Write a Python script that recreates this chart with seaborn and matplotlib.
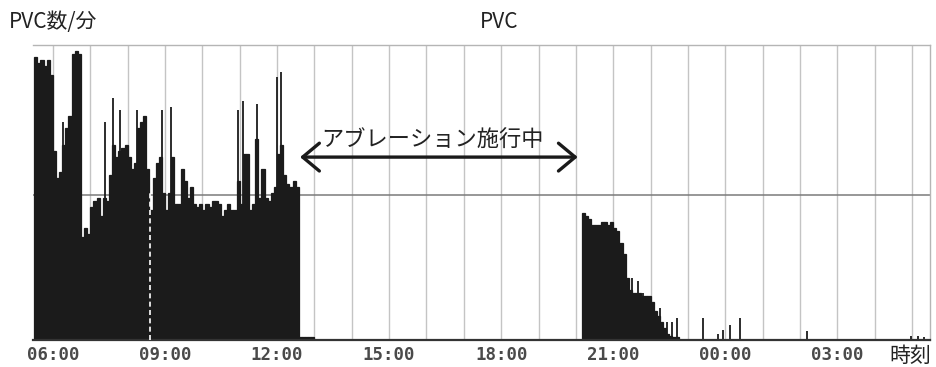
import numpy as np
import pandas as pd
import matplotlib
matplotlib.use("Agg")
import matplotlib.pyplot as plt
import seaborn as sns

## data: PVC count per minute, 5-minute bins
morning_start = "05:30"
morning_pvc = [96, 94, 95, 93, 95, 90, 64, 55, 57, 66,
               72, 76, 97, 98, 97, 35, 38, 36, 45, 47,
               48, 42, 48, 47, 56, 66, 62, 64, 65, 66,
               62, 58, 60, 72, 74, 76, 58, 44, 55, 60,
               62, 50, 44, 50, 62, 46, 46, 58, 54, 48,
               52, 46, 45, 46, 44, 46, 45, 47, 47, 46,
               42, 44, 46, 44, 44, 54, 46, 63, 63, 44,
               46, 68, 48, 58, 48, 47, 50, 52, 63, 66,
               56, 53, 52, 54, 52, 1, 1, 1, 1, 1]
evening_start = "20:10"
evening_pvc = [43, 42, 41, 39, 39, 39, 40, 40, 39, 40,
               38, 37, 33, 29, 21, 17, 16, 16, 16, 15,
               15, 15, 13, 10, 8, 6, 4, 2, 1.5, 1, 1]
bin_min = 5

## single-minute spikes
spike_times = ["06:16", "07:23", "07:36", "07:48", "08:15", "08:55", "09:10",
               "10:57", "11:05", "11:28", "12:00", "12:06",
               "21:30", "21:40", "21:48", "22:15", "22:26", "22:34", "22:42",
               "23:24", "23:48", "23:56", "00:07", "00:24", "02:11",
               "04:59", "05:09", "05:19"]
spike_pvc = [74, 74, 82, 78, 78, 78, 79,
             78, 81, 80, 89, 91,
             21, 20, 16, 11, 6, 6, 7.5,
             7.5, 2, 3.5, 5, 7.5, 3,
             1.2, 1.5, 1]

tick_labels = ["06:00", "09:00", "12:00", "15:00", "18:00", "21:00", "00:00", "03:00"]
ablation = ("12:37", "20:03")
ablation_label = "アブレーション施行中"
label_time = "16:09"


def hrs(s):
    h, m = map(int, s.split(":"))
    t = h + m / 60 - 6
    if t < -0.55:
        t += 24
    return t


def binned(start, vals):
    t0 = hrs(start)
    w = bin_min / 60
    df = pd.DataFrame({"t": t0 + (np.arange(len(vals)) + 0.5) * w, "pvc": vals})
    return df, (t0, t0 + len(vals) * w), w


sns.set_style("white")
plt.rcParams["font.family"] = ["Noto Sans CJK JP", "DejaVu Sans"]

fig = plt.figure(figsize=(9.36, 3.67), dpi=100)
ax = fig.add_axes([33 / 936, 1 - 340 / 367, 897 / 936, 295 / 367])

## grid
for h in range(24):
    ax.axvline(h, color="#c4c4c4", lw=1.0, zorder=0)
ax.axhline(49, color="#7a7a7a", lw=1.1, zorder=0)

bar_col = "#1b1b1b"
for start, vals in [(morning_start, morning_pvc), (evening_start, evening_pvc)]:
    df, rng, w = binned(start, vals)
    sns.histplot(data=df, x="t", weights="pvc", binwidth=w, binrange=rng, color=bar_col,
                 alpha=1, edgecolor=bar_col, linewidth=0.9, ax=ax, zorder=2)

ax.vlines([hrs(s) for s in spike_times], 0, spike_pvc, color=bar_col, lw=1.3, zorder=2)
# white dashed marker line inside the morning block
ax.axvline(hrs("08:36"), ymin=0, ymax=0.5, color="white", lw=1.2, ls=(0, (3, 2)), zorder=3)

ax.set_xlim(hrs("05:28"), 23.48)
ax.set_ylim(0, 100)
ax.set_xlabel("")
ax.set_ylabel("")
ax.set_yticks([])
ax.set_xticks([hrs(s) for s in tick_labels])
ax.set_xticklabels(tick_labels, family=["DejaVu Sans Mono"],
                   fontsize=12.5, fontweight="bold", color="#4a4a4a")
ax.tick_params(axis="x", length=0, pad=4)
for side in ["top", "right"]:
    ax.spines[side].set_color("#b5b5b5")
    ax.spines[side].set_linewidth(1.0)
ax.spines["left"].set_visible(False)
ax.spines["bottom"].set_color("#333333")
ax.spines["bottom"].set_linewidth(1.6)

## ablation arrow
a0, a1 = hrs(ablation[0]), hrs(ablation[1])
ax.annotate("", xy=(a1, 62), xytext=(a0, 62),
            arrowprops=dict(arrowstyle="<->,head_length=1.2,head_width=1.0",
                            color="#1a1a1a", lw=2.4, shrinkA=0, shrinkB=0), zorder=4)
ax.text(hrs(label_time), 67.8, ablation_label, ha="center", va="center",
        fontsize=16, color="#222222", zorder=4)

fig.text(499 / 936, 1 - 22 / 367, "PVC", ha="center", va="center", fontsize=15, color="#222222")
fig.text(9 / 936, 1 - 22 / 367, "PVC数/分", ha="left", va="center", fontsize=15, color="#222222")
fig.text(931 / 936, 1 - 356 / 367, "時刻", ha="right", va="center", fontsize=15, color="#222222")

fig.savefig("out.png", dpi=100)
